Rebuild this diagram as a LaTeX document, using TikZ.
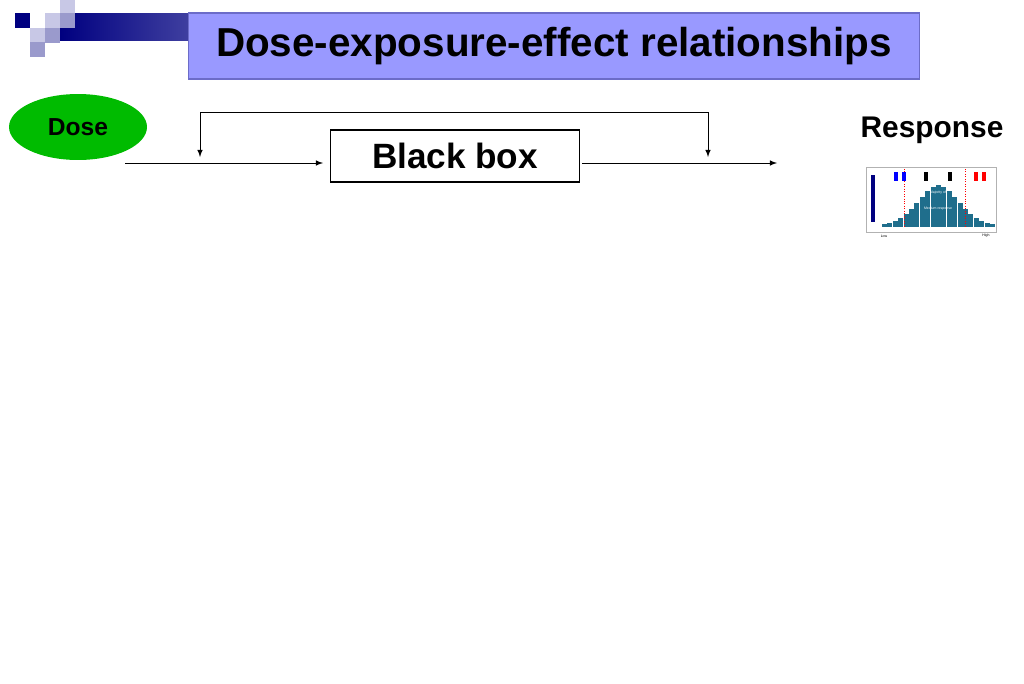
\documentclass[tikz,border=0pt]{standalone}
\usepackage{fontspec}
\setmainfont{Liberation Sans}
\usetikzlibrary{positioning, shapes.geometric}
\definecolor{titlefill}{HTML}{9999FF}
\definecolor{titleline}{HTML}{6C6CC8}
\definecolor{deco}{HTML}{000080}
\definecolor{decolight}{HTML}{C8C8E6}
\definecolor{decomid}{HTML}{9A9ACC}
\definecolor{dosegreen}{HTML}{00BB00}
\definecolor{barblue}{HTML}{1F6E8C}
\tikzset{
  title/.style={draw=titleline, line width=1pt, fill=titlefill, minimum width=14.62cm, minimum height=1.32cm, font=\bfseries\fontsize{23}{26}\selectfont},
  box/.style={draw, thick, minimum width=4.98cm, minimum height=1.04cm, font=\bfseries\fontsize{20}{22}\selectfont},
  sq/.style={minimum size=0.3cm, inner sep=0pt}
}
\begin{document}
\begin{tikzpicture}[x=0.02cm, y=-0.02cm, >=latex]
    \useasboundingbox (0,0) rectangle (1024,683);
    %
    % corner decoration
    \shade[left color=deco, right color=deco!75!white] (60,13) rectangle (190,40);
    \node[sq, fill=deco, anchor=north west] (s1) at (15,13) {};
    \node[sq, fill=decolight, anchor=north west] (s2) at (45,13) {};
    \node[sq, fill=decolight, anchor=north west] (s3) at (60,0) {};
    \node[sq, fill=decomid, anchor=north west] (s4) at (60,13) {};
    \node[sq, fill=decolight, anchor=north west] (s5) at (30,28) {};
    \node[sq, fill=decomid, anchor=north west] (s6) at (45,28) {};
    \node[sq, fill=decomid, anchor=north west] (s7) at (30,42) {};
    %
    \node[title] (t) at (554,46) {Dose-exposure-effect relationships};
    \node[ellipse, fill=dosegreen, minimum width=2.76cm, minimum height=1.32cm, font=\bfseries\fontsize{14}{16}\selectfont] (dose) at (78,127) {Dose};
    \node[box] (bb) at (455,156) {Black box};
    \node[font=\bfseries\fontsize{17}{20}\selectfont] (resp) at (932,130) {Response};
    %
    \coordinate (in) at (125,163);
    \coordinate (out) at (777,163);
    \coordinate (fl) at (200,157);
    \coordinate (fr) at (708,157);
    \coordinate (top) at (454,112);
    \draw[->] (in) -- (323,163);
    \draw[->] (582,163) -- (out);
    \draw[->] (top) -| (fl);
    \draw[->] (top) -| (fr);
    %
    % response histogram
    \begin{scope}[shift={(866,167)}]
      \draw[black!30] (0,0) rectangle (130,65);
      \foreach \i/\h in {0/3,1/4,2/6,3/9,4/13,5/18,6/24,7/30,8/36,9/40,10/42,11/40,12/36,13/30,14/24,15/18,16/13,17/9,18/6,19/4,20/3}
        \fill[barblue] (16+\i*5.4,60) rectangle ++(5,-\h);
      \draw[red, densely dotted] (38,2) -- (38,60);
      \draw[red, densely dotted] (99,2) -- (99,60);
      \fill[deco] (5,8) rectangle (9,55);
      \fill[blue] (28,5) rectangle (32,14);
      \fill[blue] (36,5) rectangle (40,14);
      \fill[red] (108,5) rectangle (112,14);
      \fill[red] (116,5) rectangle (120,14);
      \fill (58,5) rectangle (62,14);
      \fill (82,5) rectangle (86,14);
      \node[font=\fontsize{2}{2}\selectfont, text=white] (maj) at (72,26) {Majority of};
      \node[font=\fontsize{2}{2}\selectfont, text=white] (med) at (72,42) {Medium response};
      \node[font=\fontsize{2}{2}\selectfont] (lo) at (18,69) {Low};
      \node[font=\fontsize{2}{2}\selectfont] (hi) at (120,69) {High};
    \end{scope}
\end{tikzpicture}
\end{document}
